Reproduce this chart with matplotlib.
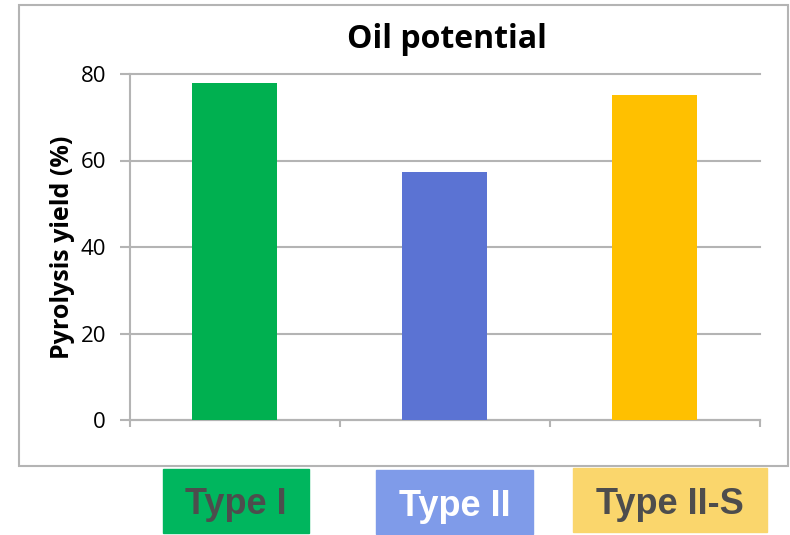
import matplotlib.pyplot as plt
from matplotlib.patches import Rectangle

# data
types = ['Type I', 'Type II', 'Type II-S']
yields = [77.9, 57.3, 75.1]
bar_colors = ['#00B050', '#5B73D3', '#FFC000']
box_colors = ['#00B65E', '#7F9BE9', '#FAD66C']
box_text_colors = ['#4D4D4D', '#FFFFFF', '#4D4D4D']

W, H = 790, 535
fig = plt.figure(figsize=(W / 100, H / 100), dpi=100)

# outer chart border
fig.patches.append(Rectangle((19 / W, 1 - 466 / H), (788 - 19) / W, (466 - 5) / H,
                             transform=fig.transFigure, fill=False,
                             edgecolor='#B4B4B4', linewidth=1.5))

ax = fig.add_axes([129.5 / W, 1 - 420 / H, (760 - 129.5) / W, (420 - 74) / H])
x = list(range(len(types)))
ax.bar(x, yields, width=0.405, color=bar_colors, zorder=3)

ax.set_xlim(-0.5, len(types) - 0.5)
ax.set_ylim(0, 80)
ax.set_yticks([0, 20, 40, 60, 80])
ax.yaxis.grid(True, color='#B4B4B4', linewidth=1.5, clip_on=False)
ax.set_axisbelow(True)
for s in ['top', 'right']:
    ax.spines[s].set_visible(False)
for s in ['left', 'bottom']:
    ax.spines[s].set_color('#B4B4B4')
    ax.spines[s].set_linewidth(1.5)
ax.tick_params(axis='y', length=7, width=1.5, color='#B4B4B4', labelsize=16, pad=10)
ax.set_xticks([-0.5, 0.5, 1.5, 2.5])
ax.set_xticklabels([])
ax.tick_params(axis='x', length=5, width=1.5, color='#B4B4B4')
for lab in ax.get_yticklabels():
    lab.set_family('Open Sans')

ax.set_ylabel('Pyrolysis yield (%)', fontsize=18, fontweight='bold',
              family='Open Sans', labelpad=4)
fig.text(447 / W, 1 - 40 / H, 'Oil potential', ha='center', va='center',
         fontsize=23, fontweight='bold', family='Open Sans')

# colored category label boxes below the chart
boxes = [(163, 309, 469, 533), (376, 533, 470, 534), (573, 767, 468, 532)]
for (x0, x1, y0, y1), t, bc, tc in zip(boxes, types, box_colors, box_text_colors):
    fig.patches.append(Rectangle((x0 / W, 1 - y1 / H), (x1 - x0) / W, (y1 - y0) / H,
                                 transform=fig.transFigure, color=bc))
    fig.text((x0 + x1) / 2 / W, 1 - ((y0 + y1) / 2 + 4) / H, t, ha='center', va='center',
             fontsize=26, fontweight='bold', family='Liberation Sans', color=tc)

fig.savefig('out.png', dpi=100)
